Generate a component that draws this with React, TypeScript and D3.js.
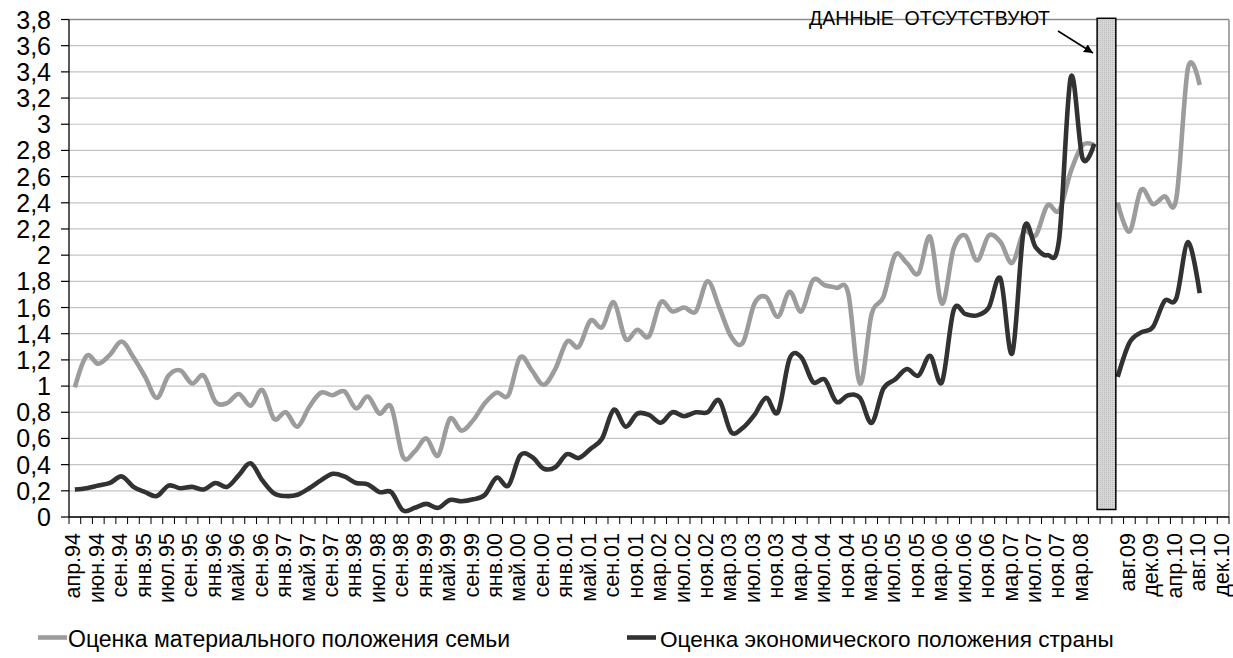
import React from "react";
import * as d3 from "d3";

const categories: string[] = [
  "апр.94", "май.94", "июн.94", "авг.94", "сен.94", "ноя.94", "янв.95", "мар.95", "июл.95", "авг.95",
  "сен.95", "ноя.95", "янв.96", "мар.96", "май.96", "июл.96", "сен.96", "ноя.96", "янв.97", "мар.97",
  "май.97", "июл.97", "сен.97", "ноя.97", "янв.98", "мар.98", "июл.98", "авг.98", "сен.98", "ноя.98",
  "янв.99", "мар.99", "май.99", "июл.99", "сен.99", "ноя.99", "янв.00", "мар.00", "май.00", "июл.00",
  "сен.00", "ноя.00", "янв.01", "мар.01", "май.01", "июл.01", "сен.01", "окт.01", "ноя.01", "янв.02",
  "мар.02", "май.02", "июл.02", "сен.02", "ноя.02", "янв.03", "мар.03", "май.03", "июл.03", "сен.03",
  "ноя.03", "янв.04", "мар.04", "май.04", "июл.04", "сен.04", "ноя.04", "янв.05", "мар.05", "май.05",
  "июл.05", "сен.05", "ноя.05", "янв.06", "мар.06", "май.06", "июл.06", "сен.06", "ноя.06", "янв.07",
  "мар.07", "май.07", "июл.07", "сен.07", "ноя.07", "янв.08", "мар.08", "май.08", "", "июн.09",
  "авг.09", "окт.09", "дек.09", "фев.10", "апр.10", "июн.10", "авг.10", "окт.10", "дек.10",
];

const familyValues: (number | null)[] = [
  0.99, 1.23, 1.17, 1.24, 1.34, 1.22, 1.07, 0.91, 1.08, 1.12,
  1.02, 1.08, 0.88, 0.87, 0.94, 0.85, 0.97, 0.75, 0.80, 0.69,
  0.84, 0.95, 0.93, 0.96, 0.83, 0.92, 0.79, 0.84, 0.46, 0.50,
  0.60, 0.47, 0.75, 0.66, 0.74, 0.87, 0.95, 0.93, 1.22, 1.12,
  1.01, 1.13, 1.34, 1.30, 1.50, 1.45, 1.64, 1.36, 1.43, 1.38,
  1.64, 1.57, 1.60, 1.57, 1.80, 1.60, 1.38, 1.33, 1.63, 1.68,
  1.53, 1.72, 1.57, 1.81, 1.77, 1.75, 1.71, 1.02, 1.55, 1.68,
  2.00, 1.94, 1.86, 2.14, 1.63, 2.05, 2.15, 1.96, 2.15, 2.10,
  1.94, 2.18, 2.15, 2.38, 2.34, 2.64, 2.84, 2.84, null, 2.40,
  2.18, 2.50, 2.39, 2.45, 2.43, 3.43, 3.30, null, null,
];

const countryValues: (number | null)[] = [
  0.21, 0.22, 0.24, 0.26, 0.31, 0.23, 0.19, 0.16, 0.24, 0.22,
  0.23, 0.21, 0.26, 0.23, 0.32, 0.41, 0.28, 0.18, 0.16, 0.17,
  0.22, 0.28, 0.33, 0.31, 0.26, 0.25, 0.19, 0.19, 0.05, 0.07,
  0.10, 0.07, 0.13, 0.12, 0.135, 0.17, 0.30, 0.24, 0.47, 0.46,
  0.37, 0.38, 0.48, 0.45, 0.52, 0.60, 0.82, 0.69, 0.79, 0.78,
  0.72, 0.80, 0.77, 0.80, 0.80, 0.89, 0.65, 0.68, 0.78, 0.91,
  0.80, 1.21, 1.22, 1.03, 1.05, 0.88, 0.93, 0.91, 0.72, 0.98,
  1.05, 1.13, 1.08, 1.23, 1.03, 1.58, 1.55, 1.54, 1.60, 1.82,
  1.25, 2.20, 2.06, 2.00, 2.12, 3.36, 2.74, 2.85, null, 1.07,
  1.33, 1.41, 1.45, 1.65, 1.67, 2.10, 1.71, null, null,
];

const yTicks: number[] = [0, 0.2, 0.4, 0.6, 0.8, 1, 1.2, 1.4, 1.6, 1.8, 2, 2.2, 2.4, 2.6, 2.8, 3, 3.2, 3.4, 3.6, 3.8];

const seriesNames: string[] = ["Оценка материального положения семьи", "Оценка экономического положения страны"];
const annotationText = "ДАННЫЕ  ОТСУТСТВУЮТ";
const missingIndex = 88;

const W = 1233;
const H = 658;
const FONT = "'Liberation Sans', Arial, sans-serif";
const GRAY = "#9c9c9c";
const DARK = "#323232";

export default function App() {
  const n = categories.length;
  const x = d3.scaleLinear().domain([0, n]).range([69, 1229]);
  const y = d3.scaleLinear().domain([0, 3.8]).range([517, 19.5]);
  const cx = (i: number) => x(i + 0.5);

  const line = d3
    .line<number | null>()
    .defined((d) => d !== null)
    .x((_, i) => cx(i))
    .y((d) => y(d as number))
    .curve(d3.curveCardinal.tension(0));

  const fmt = (v: number) => String(+v.toFixed(1)).replace(".", ",");

  const barX0 = x(missingIndex) - 3;
  const barX1 = x(missingIndex + 1) + 4;

  return (
    <svg width={W} height={H} style={{ position: "absolute", left: 0, top: 0, background: "#fff" }} fontFamily={FONT}>
      <defs>
        <pattern id="stip" width="2" height="2" patternUnits="userSpaceOnUse">
          <rect width="2" height="2" fill="#d6d6d6" />
          <rect width="1" height="1" fill="#bdbdbd" />
        </pattern>
        <marker id="arr" viewBox="0 0 10 10" refX="10" refY="5" markerWidth="9" markerHeight="9" orient="auto" markerUnits="userSpaceOnUse">
          <path d="M0,0 L10,5 L0,10 z" fill="#000" />
        </marker>
      </defs>
      <rect width={W} height={H} fill="#fff" />

      {yTicks.map((t) => (
        <line
          key={"g" + t}
          x1={69}
          x2={1229}
          y1={y(t)}
          y2={y(t)}
          stroke={t === 3.8 ? "#8a8a8a" : "#c4c4c4"}
          strokeWidth={t === 3.8 ? 1.5 : 1.2}
        />
      ))}
      <line x1={1229} x2={1229} y1={y(3.8)} y2={y(0)} stroke="#8a8a8a" strokeWidth={1.5} />

      <line x1={69} x2={69} y1={y(3.8)} y2={y(0)} stroke="#000" strokeWidth={1.3} />
      {yTicks.map((t) => (
        <g key={"yt" + t}>
          <line x1={61} x2={69} y1={y(t)} y2={y(t)} stroke="#000" strokeWidth={1.2} />
          <text x={51} y={y(t)} dy="0.36em" textAnchor="end" fontSize={25} fill="#000">
            {fmt(t)}
          </text>
        </g>
      ))}

      <line x1={69} x2={1229} y1={y(0)} y2={y(0)} stroke="#000" strokeWidth={1.3} />
      {d3.range(n + 1).map((i) => (
        <line key={"xt" + i} x1={x(i)} x2={x(i)} y1={y(0)} y2={y(0) + 7} stroke="#000" strokeWidth={1} />
      ))}
      {categories.map((c, i) =>
        i % 2 === 0 && c ? (
          <text
            key={"xl" + i}
            transform={`translate(${cx(i)},533) rotate(-90)`}
            dy="0.25em"
            textAnchor="end"
            fontSize={21.5}
            fill="#000"
          >
            {c}
          </text>
        ) : null
      )}

      <path d={line(familyValues) || ""} fill="none" stroke={GRAY} strokeWidth={4.6} strokeLinejoin="round" />
      <path d={line(countryValues) || ""} fill="none" stroke={DARK} strokeWidth={4.6} strokeLinejoin="round" />

      <rect x={barX0} y={18.3} width={barX1 - barX0} height={509.5 - 18.3} fill="url(#stip)" stroke="#000" strokeWidth={1.5} />

      <text x={1050} y={25} textAnchor="end" fontSize={19.5} fill="#000" style={{ whiteSpace: "pre" }}>
        {annotationText}
      </text>
      <line x1={1058} y1={31} x2={1093} y2={53} stroke="#000" strokeWidth={1.5} markerEnd="url(#arr)" />

      <line x1={38} x2={67} y1={637.5} y2={637.5} stroke={GRAY} strokeWidth={4.6} />
      <text x={68} y={646.5} fontSize={23} fill="#000">
        {seriesNames[0]}
      </text>
      <line x1={627} x2={656} y1={637.5} y2={637.5} stroke={DARK} strokeWidth={4.6} />
      <text x={660} y={646.5} fontSize={22.6} fill="#000">
        {seriesNames[1]}
      </text>
    </svg>
  );
}
